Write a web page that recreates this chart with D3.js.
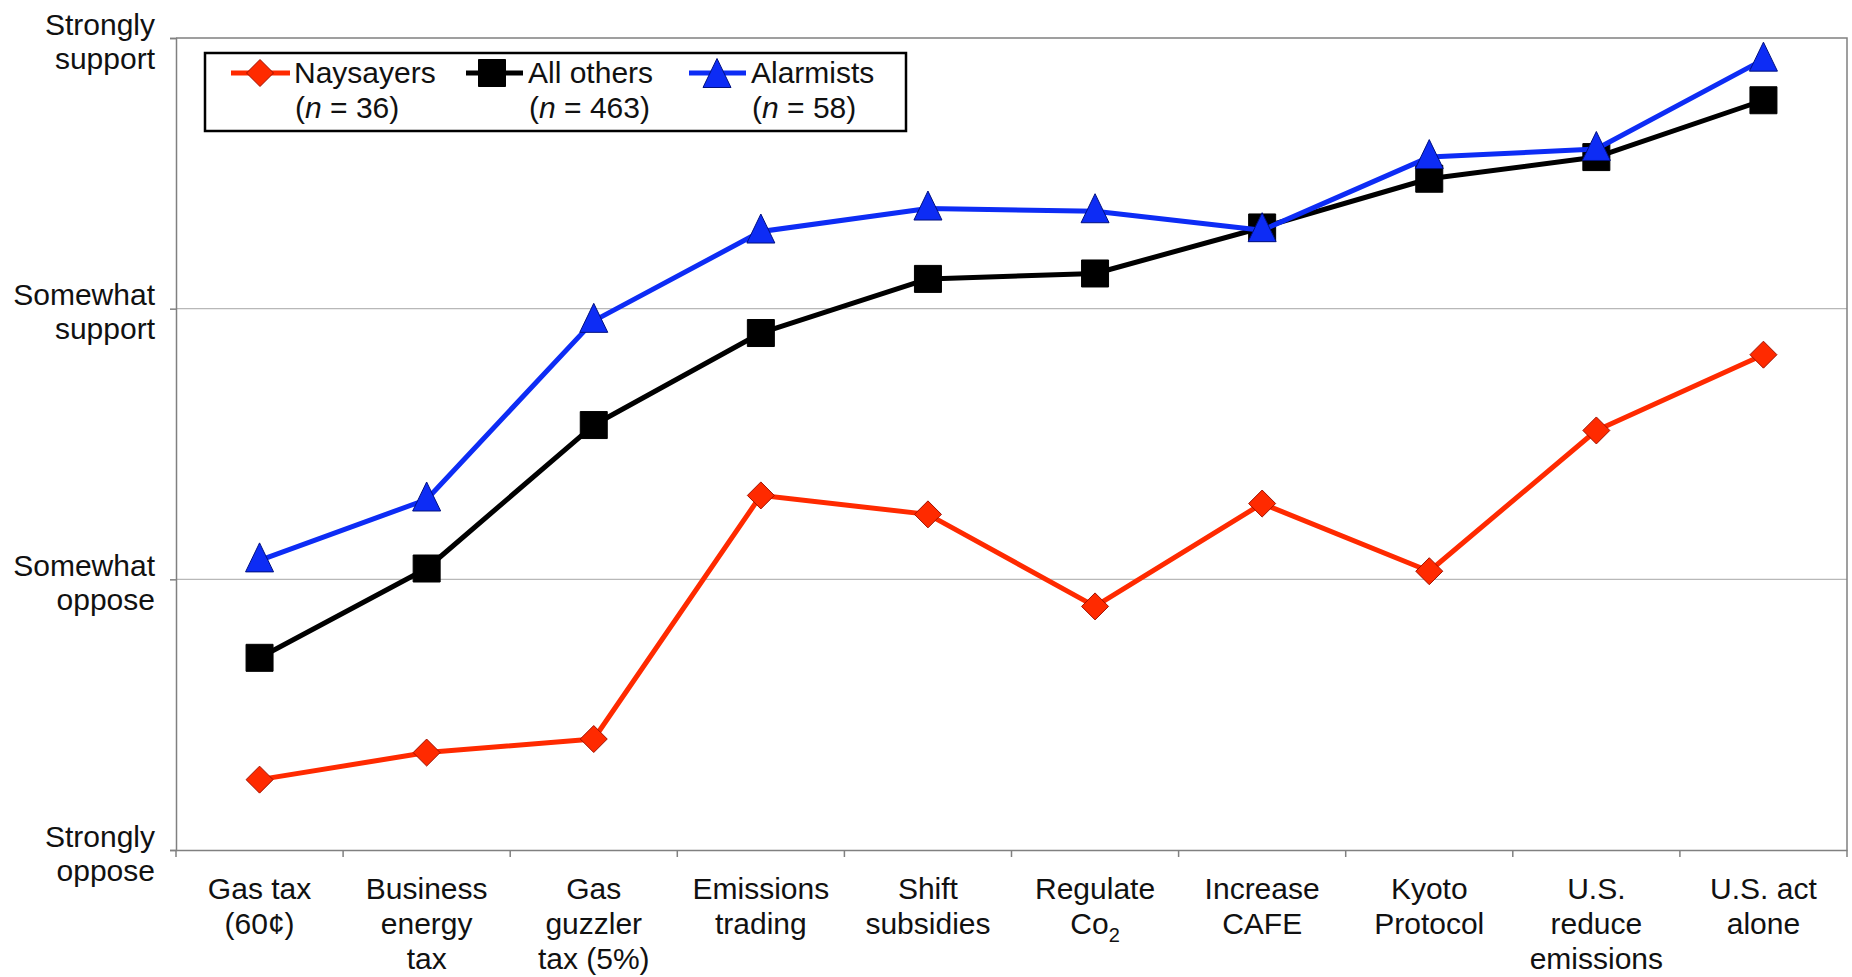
<!DOCTYPE html>
<html>
<head>
<meta charset="utf-8">
<script src="https://cdn.jsdelivr.net/npm/d3@7"></script>
<style>
  html, body { margin: 0; padding: 0; background: #fff; }
  svg { display: block; font-family: "Liberation Sans", Arial, sans-serif; }
</style>
</head>
<body>
<svg id="chart" width="1852" height="977"></svg>
<script>
// Policy items along the x axis (each entry is a list of label lines)
const categories = [
  "Gas tax (60¢)", "Business energy tax", "Gas guzzler tax (5%)", "Emissions trading",
  "Shift subsidies", "Regulate Co2", "Increase CAFE", "Kyoto Protocol",
  "U.S. reduce emissions", "U.S. act alone"
];
const categoryLines = [
  ["Gas tax", "(60¢)"], ["Business", "energy", "tax"], ["Gas", "guzzler", "tax (5%)"],
  ["Emissions", "trading"], ["Shift", "subsidies"], ["Regulate", "Co|2"],
  ["Increase", "CAFE"], ["Kyoto", "Protocol"], ["U.S.", "reduce", "emissions"],
  ["U.S. act", "alone"]
];

// Mean support on a 1–4 scale for each group
const naysayers = [1.26, 1.36, 1.41, 2.31, 2.24, 1.90, 2.28, 2.03, 2.55, 2.83];
const allOthers = [1.71, 2.04, 2.57, 2.91, 3.11, 3.13, 3.30, 3.48, 3.56, 3.77];
const alarmists = [2.07, 2.295, 2.955, 3.285, 3.37, 3.36, 3.29, 3.56, 3.59, 3.92];

const seriesNames = ["Naysayers", "All others", "Alarmists"];
const seriesN = ["36", "463", "58"];

// Y tick values and their two-line labels
const yTicks = [1, 2, 3, 4];
const yTickLabels = [
  ["Strongly", "oppose"], ["Somewhat", "oppose"],
  ["Somewhat", "support"], ["Strongly", "support"]
];

const svg = d3.select("#chart");
const plot = { left: 176, right: 1847, top: 38, bottom: 850 };

const x = d3.scaleBand().domain(categories).range([plot.left, plot.right]);
const cx = c => x(c) + x.bandwidth() / 2;
const y = d3.scaleLinear().domain([1, 4]).range([plot.bottom, plot.top]);

const axisColor = "#808080";
const gridColor = "#b8b8b8";
const fontSize = 30;

// Horizontal gridlines at the inner levels
svg.append("g").selectAll("line")
  .data(yTicks.filter(v => v > 1 && v < 4))
  .join("line")
  .attr("x1", plot.left).attr("x2", plot.right)
  .attr("y1", d => y(d)).attr("y2", d => y(d))
  .attr("stroke", gridColor).attr("stroke-width", 1.2);

// Plot area frame: top and right edges
svg.append("path")
  .attr("d", `M${plot.left},${y(4)}H${plot.right}V${plot.bottom}`)
  .attr("fill", "none").attr("stroke", axisColor).attr("stroke-width", 1.5);

// Y axis with multi-line labels
const yAxis = d3.axisLeft(y).tickValues(yTicks).tickSize(6).tickFormat("");
const yg = svg.append("g").attr("transform", `translate(${plot.left},0)`).call(yAxis);
yg.select(".domain").attr("stroke", axisColor).attr("stroke-width", 1.5);
yg.selectAll(".tick line").attr("stroke", axisColor).attr("stroke-width", 1.5);
yg.selectAll(".tick").each(function(d, i) {
  const t = d3.select(this).append("text")
    .attr("x", -21).attr("text-anchor", "end")
    .attr("fill", "#111").attr("font-size", fontSize);
  yTickLabels[i].forEach((line, j) => {
    t.append("tspan").attr("x", -21).attr("y", j === 0 ? -4 : 30).text(line);
  });
});

// X axis: baseline plus ticks at category boundaries
const xAxis = d3.axisBottom(x).tickSize(0).tickFormat("");
const xg = svg.append("g").attr("transform", `translate(0,${plot.bottom})`).call(xAxis);
xg.select(".domain").attr("stroke", axisColor).attr("stroke-width", 1.5);
const boundaries = categories.map(c => x(c)).concat([x.range()[1]]);
xg.selectAll("line.boundary")
  .data(boundaries)
  .join("line").attr("class", "boundary")
  .attr("x1", d => d).attr("x2", d => d)
  .attr("y1", 0).attr("y2", 7)
  .attr("stroke", axisColor).attr("stroke-width", 1.5);

// Category labels
categories.forEach((c, i) => {
  const t = svg.append("text")
    .attr("text-anchor", "middle").attr("fill", "#111").attr("font-size", fontSize);
  categoryLines[i].forEach((line, j) => {
    const ts = t.append("tspan").attr("x", cx(c)).attr("y", 899 + j * 35);
    if (line.includes("|")) {
      const [base, sub] = line.split("|");
      ts.text(base);
      t.append("tspan").attr("font-size", 20).attr("dy", 8).text(sub);
    } else {
      ts.text(line);
    }
  });
});

// Marker shapes, centred on the data point
const markerPath = {
  square: "M-13.5,-13.5H13.5V13.5H-13.5Z",
  diamond: "M0,-13.5L13.5,0L0,13.5L-13.5,0Z",
  triangle: "M0,-17.5L14,11.5L-14,11.5Z"
};

const series = [
  { name: seriesNames[0], n: seriesN[0], values: naysayers, color: "#ff2a00", stroke: "#a01000", marker: "diamond" },
  { name: seriesNames[1], n: seriesN[1], values: allOthers, color: "#000000", stroke: "#000000", marker: "square" },
  { name: seriesNames[2], n: seriesN[2], values: alarmists, color: "#0d2cf5", stroke: "#001080", marker: "triangle" }
];

const line = d3.line().x((d, i) => cx(categories[i])).y(d => y(d));

// Draw order: naysayers, all others, then alarmists on top
series.forEach(s => {
  const g = svg.append("g");
  g.append("path")
    .attr("d", line(s.values))
    .attr("fill", "none").attr("stroke", s.color)
    .attr("stroke-width", 5).attr("stroke-linejoin", "round");
  g.selectAll("path.marker")
    .data(s.values)
    .join("path").attr("class", "marker")
    .attr("transform", (d, i) => `translate(${cx(categories[i])},${y(d)})`)
    .attr("d", markerPath[s.marker])
    .attr("fill", s.color).attr("stroke", s.stroke).attr("stroke-width", 1);
});

// Legend
const legend = svg.append("g");
legend.append("rect")
  .attr("x", 205).attr("y", 53).attr("width", 701).attr("height", 78)
  .attr("fill", "#fff").attr("stroke", "#000").attr("stroke-width", 2.5);
const legendItems = [
  { lx1: 231, lx2: 290, mx: 260, tx: 294 },
  { lx1: 466, lx2: 523, mx: 492, tx: 528 },
  { lx1: 689, lx2: 746, mx: 717, tx: 751 }
];
series.forEach((s, i) => {
  const it = legendItems[i];
  const my = s.marker === "triangle" ? 76 : 73;
  const g = legend.append("g");
  g.append("line")
    .attr("x1", it.lx1).attr("x2", it.lx2).attr("y1", 73).attr("y2", 73)
    .attr("stroke", s.color).attr("stroke-width", 5);
  g.append("path")
    .attr("transform", `translate(${it.mx},${my})`)
    .attr("d", markerPath[s.marker])
    .attr("fill", s.color).attr("stroke", s.stroke).attr("stroke-width", 1);
  g.append("text").attr("x", it.tx).attr("y", 83)
    .attr("font-size", fontSize).attr("fill", "#111").text(s.name);
  const t2 = g.append("text").attr("x", it.tx + 1).attr("y", 118)
    .attr("font-size", fontSize).attr("fill", "#111");
  t2.append("tspan").text("(");
  t2.append("tspan").attr("font-style", "italic").text("n");
  t2.append("tspan").text(` = ${s.n})`);
});
</script>
</body>
</html>
